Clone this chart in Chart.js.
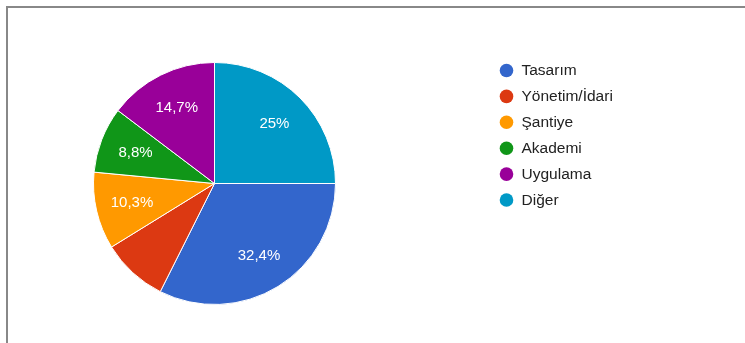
<!DOCTYPE html>
<html>
<head>
<meta charset="utf-8">
<script src="https://cdn.jsdelivr.net/npm/chart.js@4/dist/chart.umd.min.js"></script>
<style>
    html, body { margin: 0; padding: 0; background: #fff; }
    #wrap { position: relative; width: 745px; height: 343px; overflow: hidden; }
    #frame {
        position: absolute; left: 6px; top: 6px; right: 0; bottom: 0;
        border-top: 2px solid #888; border-left: 2px solid #888;
    }
    canvas { position: absolute; left: 0; top: 0; }
</style>
</head>
<body>
<div id="wrap">
    <div id="frame"></div>
    <canvas id="piechart" width="745" height="343"></canvas>
</div>
<script>
'use strict';

// Kategoriler ve yüzdeler
const labels = ['Tasarım', 'Yönetim/İdari', 'Şantiye', 'Akademi', 'Uygulama', 'Diğer'];
const values = [32.4, 8.8, 10.3, 8.8, 14.7, 25];
const valueLabels = ['32,4%', '', '10,3%', '8,8%', '14,7%', '25%'];
const colors = ['#3366cc', '#dc3912', '#ff9900', '#109618', '#990099', '#0099c6'];

const FONT = '"Liberation Sans", Arial, sans-serif';

// Dilim üzerine yüzde yazıları
const sliceLabels = {
    id: 'sliceLabels',
    afterDatasetsDraw(chart) {
        const ctx = chart.ctx;
        const meta = chart.getDatasetMeta(0);
        ctx.save();
        ctx.font = '15px ' + FONT;
        ctx.fillStyle = '#ffffff';
        ctx.textAlign = 'center';
        ctx.textBaseline = 'middle';
        meta.data.forEach((arc, i) => {
            if (!valueLabels[i]) return;
            const p = arc.getProps(['x', 'y', 'startAngle', 'endAngle', 'outerRadius']);
            const mid = (p.startAngle + p.endAngle) / 2;
            const r = p.outerRadius * 0.7;
            ctx.fillText(valueLabels[i], p.x + Math.cos(mid) * r, p.y + Math.sin(mid) * r);
        });
        ctx.restore();
    },
};

// Sağdaki açıklama listesi
const sideLegend = {
    id: 'sideLegend',
    afterDraw(chart) {
        const ctx = chart.ctx;
        ctx.save();
        ctx.font = '15.5px ' + FONT;
        ctx.textBaseline = 'middle';
        chart.data.labels.forEach((name, i) => {
            const y = 70.5 + i * 25.9;
            ctx.fillStyle = colors[i];
            ctx.beginPath();
            ctx.arc(506.5, y, 6.8, 0, Math.PI * 2);
            ctx.fill();
            ctx.fillStyle = '#222222';
            ctx.fillText(name, 521.5, y + 0.5);
        });
        ctx.restore();
    },
};

new Chart(document.getElementById('piechart'), {
    type: 'pie',
    data: {
        labels: labels,
        datasets: [
            {
                data: values,
                backgroundColor: colors,
                borderColor: '#ffffff',
                borderWidth: 1,
                hoverOffset: 0,
            },
        ],
    },
    options: {
        responsive: false,
        animation: false,
        events: [],
        rotation: 90,
        layout: {
            padding: { left: 93, top: 62, right: 745 - 336, bottom: 343 - 305 },
        },
        plugins: {
            legend: { display: false },
            tooltip: { enabled: false },
        },
    },
    plugins: [sliceLabels, sideLegend],
});
</script>
</body>
</html>
